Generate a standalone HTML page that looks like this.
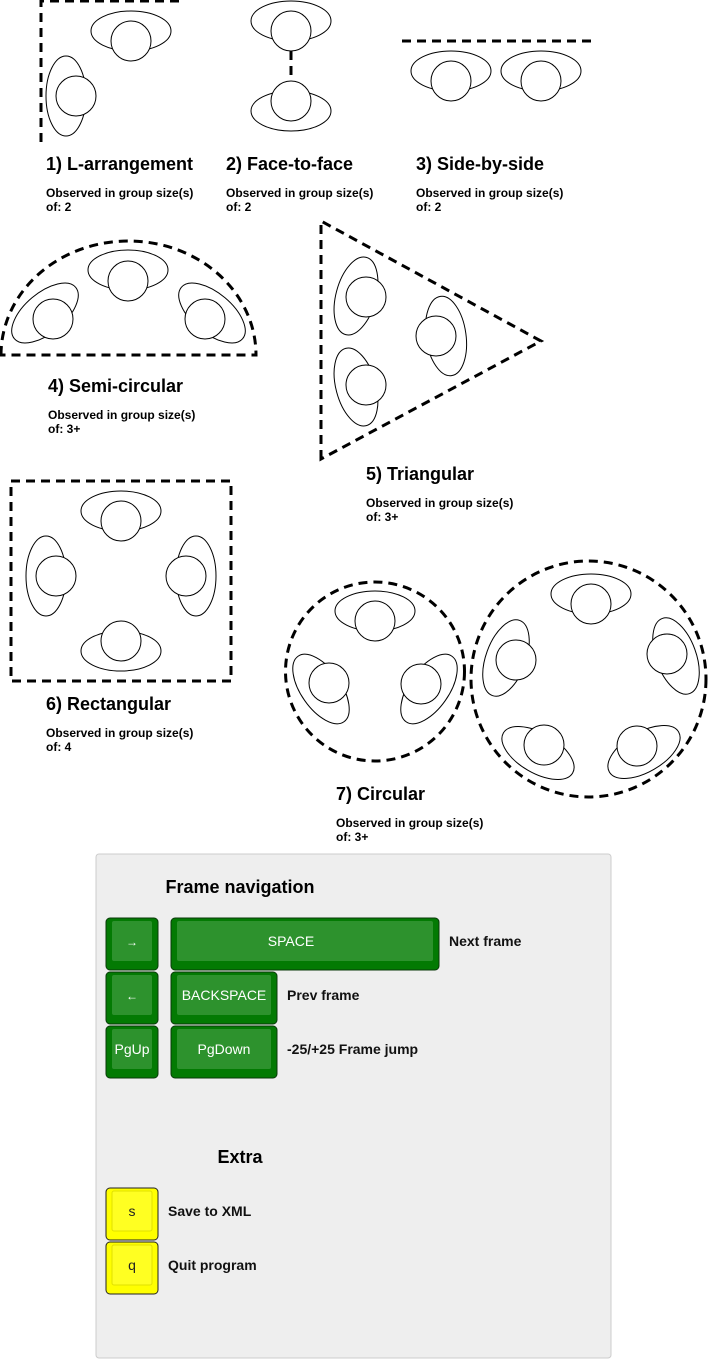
<!DOCTYPE html>
<html><head><meta charset="utf-8"><style>
body{margin:0;background:#fff;width:710px;height:1359px;overflow:hidden}
svg{display:block}
text{font-family:"Liberation Sans",Arial,sans-serif}
.t{font-size:18px;font-weight:bold}
.s{font-size:12px;font-weight:bold}
.d{fill:none;stroke:#000;stroke-width:3;stroke-dasharray:9,6}
.p ellipse,.p circle{fill:#fff;stroke:#000;stroke-width:1}
</style></head><body>
<svg width="710" height="1359" viewBox="0 0 710 1359">
<!-- 1 -->
<path class="d" d="M41,142 L41,1 L181,1"/>
<g class="p"><ellipse cx="131" cy="31" rx="40" ry="20"/><circle cx="131" cy="41" r="20"/>
<ellipse cx="66" cy="96" rx="20" ry="40"/><circle cx="76" cy="96" r="20"/></g>
<text class="t" x="46" y="170">1) L-arrangement</text>
<text class="s" x="46" y="197">Observed in group size(s)</text><text class="s" x="46" y="211">of: 2</text>
<!-- 2 -->
<path class="d" d="M291,51 L291,81"/>
<g class="p"><ellipse cx="291" cy="21" rx="40" ry="20"/><circle cx="291" cy="31" r="20"/>
<ellipse cx="291" cy="111" rx="40" ry="20"/><circle cx="291" cy="101" r="20"/></g>
<text class="t" x="226" y="170">2) Face-to-face</text>
<text class="s" x="226" y="197">Observed in group size(s)</text><text class="s" x="226" y="211">of: 2</text>
<!-- 3 -->
<path class="d" d="M402,41 L592,41"/>
<g class="p"><ellipse cx="451" cy="71" rx="40" ry="20"/><circle cx="451" cy="81" r="20"/>
<ellipse cx="541" cy="71" rx="40" ry="20"/><circle cx="541" cy="81" r="20"/></g>
<text class="t" x="416" y="170">3) Side-by-side</text>
<text class="s" x="416" y="197">Observed in group size(s)</text><text class="s" x="416" y="211">of: 2</text>
<!-- 4 -->
<path class="d" d="M1,355 A127.5,114 0 0 1 256,355 Z"/>
<g class="p"><ellipse cx="128" cy="270" rx="40" ry="20"/><circle cx="128" cy="281" r="20"/>
<ellipse cx="45" cy="313" rx="40" ry="20" transform="rotate(-40 45 313)"/><circle cx="53" cy="319" r="20"/>
<ellipse cx="212" cy="313" rx="40" ry="20" transform="rotate(40 212 313)"/><circle cx="205" cy="319" r="20"/></g>
<text class="t" x="48" y="392">4) Semi-circular</text>
<text class="s" x="48" y="419">Observed in group size(s)</text><text class="s" x="48" y="433">of: 3+</text>
<!-- 5 -->
<path class="d" d="M321,459 L321,221 L541,341 Z"/>
<g class="p"><ellipse cx="356" cy="296" rx="20" ry="40" transform="rotate(15 356 296)"/><circle cx="366" cy="297" r="20"/>
<ellipse cx="356" cy="387" rx="20" ry="40" transform="rotate(-15 356 387)"/><circle cx="366" cy="385" r="20"/>
<ellipse cx="446" cy="336" rx="20" ry="40" transform="rotate(-8 446 336)"/><circle cx="436" cy="336" r="20"/></g>
<text class="t" x="366" y="480">5) Triangular</text>
<text class="s" x="366" y="507">Observed in group size(s)</text><text class="s" x="366" y="521">of: 3+</text>
<!-- 6 -->
<rect class="d" x="11" y="481" width="220" height="200"/>
<g class="p"><ellipse cx="121" cy="511" rx="40" ry="20"/><circle cx="121" cy="521" r="20"/>
<ellipse cx="46" cy="576" rx="20" ry="40"/><circle cx="56" cy="576" r="20"/>
<ellipse cx="196" cy="576" rx="20" ry="40"/><circle cx="186" cy="576" r="20"/>
<ellipse cx="121" cy="651" rx="40" ry="20"/><circle cx="121" cy="641" r="20"/></g>
<text class="t" x="46" y="710">6) Rectangular</text>
<text class="s" x="46" y="737">Observed in group size(s)</text><text class="s" x="46" y="751">of: 4</text>
<!-- 7 -->
<circle class="d" cx="375" cy="671.5" r="89.5"/>
<ellipse class="d" cx="588.5" cy="679" rx="117.5" ry="118"/>
<g class="p"><ellipse cx="375" cy="611" rx="40" ry="20"/><circle cx="375" cy="621" r="20"/>
<ellipse cx="321" cy="689" rx="20" ry="40" transform="rotate(-35 321 689)"/><circle cx="329" cy="683" r="20"/>
<ellipse cx="429" cy="689" rx="20" ry="40" transform="rotate(35 429 689)"/><circle cx="421" cy="684" r="20"/>
<ellipse cx="591" cy="594" rx="40" ry="20"/><circle cx="591" cy="604" r="20"/>
<ellipse cx="506" cy="658" rx="20" ry="40" transform="rotate(20 506 658)"/><circle cx="516" cy="660" r="20"/>
<ellipse cx="676" cy="656" rx="20" ry="40" transform="rotate(-20 676 656)"/><circle cx="667" cy="654" r="20"/>
<ellipse cx="538" cy="753" rx="40" ry="20" transform="rotate(30 538 753)"/><circle cx="544" cy="745" r="20"/>
<ellipse cx="644" cy="752" rx="40" ry="20" transform="rotate(-30 644 752)"/><circle cx="637" cy="746" r="20"/></g>
<text class="t" x="336" y="800">7) Circular</text>
<text class="s" x="336" y="827">Observed in group size(s)</text><text class="s" x="336" y="841">of: 3+</text>
<!-- panel -->
<rect x="96" y="854" width="515" height="504" rx="3" fill="#eeeeee" stroke="#cccccc"/>
<text class="t" x="240" y="893" text-anchor="middle">Frame navigation</text>
<g font-size="14" fill="#fff" text-anchor="middle">
<rect x="106" y="918" width="52" height="52" rx="4" fill="#037a03" stroke="#0a3a0a"/><rect x="112" y="921" width="40" height="40" rx="2" fill="#2d922d"/><text x="132" y="946" font-size="12">→</text>
<rect x="106" y="972" width="52" height="52" rx="4" fill="#037a03" stroke="#0a3a0a"/><rect x="112" y="975" width="40" height="40" rx="2" fill="#2d922d"/><text x="132" y="1000" font-size="12">←</text>
<rect x="106" y="1026" width="52" height="52" rx="4" fill="#037a03" stroke="#0a3a0a"/><rect x="112" y="1029" width="40" height="40" rx="2" fill="#2d922d"/><text x="132" y="1054">PgUp</text>
<rect x="171" y="918" width="268" height="52" rx="4" fill="#037a03" stroke="#0a3a0a"/><rect x="177" y="921" width="256" height="40" rx="2" fill="#2d922d"/><text x="291" y="946">SPACE</text>
<rect x="171" y="972" width="106" height="52" rx="4" fill="#037a03" stroke="#0a3a0a"/><rect x="177" y="975" width="94" height="40" rx="2" fill="#2d922d"/><text x="224" y="1000">BACKSPACE</text>
<rect x="171" y="1026" width="106" height="52" rx="4" fill="#037a03" stroke="#0a3a0a"/><rect x="177" y="1029" width="94" height="40" rx="2" fill="#2d922d"/><text x="224" y="1054">PgDown</text>
</g>
<g font-size="14" font-weight="bold" fill="#111">
<text x="449" y="946">Next frame</text>
<text x="287" y="1000">Prev frame</text>
<text x="287" y="1054">-25/+25 Frame jump</text>
<text x="168" y="1216">Save to XML</text>
<text x="168" y="1270">Quit program</text>
</g>
<text class="t" x="240" y="1163" text-anchor="middle">Extra</text>
<g font-size="14" fill="#222" text-anchor="middle">
<rect x="106" y="1188" width="52" height="52" rx="4" fill="#ffff00" stroke="#222"/><rect x="112" y="1191" width="40" height="40" rx="2" fill="#ffff22" stroke="#e0e000"/><text x="132" y="1216">s</text>
<rect x="106" y="1242" width="52" height="52" rx="4" fill="#ffff00" stroke="#222"/><rect x="112" y="1245" width="40" height="40" rx="2" fill="#ffff22" stroke="#e0e000"/><text x="132" y="1270">q</text>
</g>
</svg>
</body></html>
